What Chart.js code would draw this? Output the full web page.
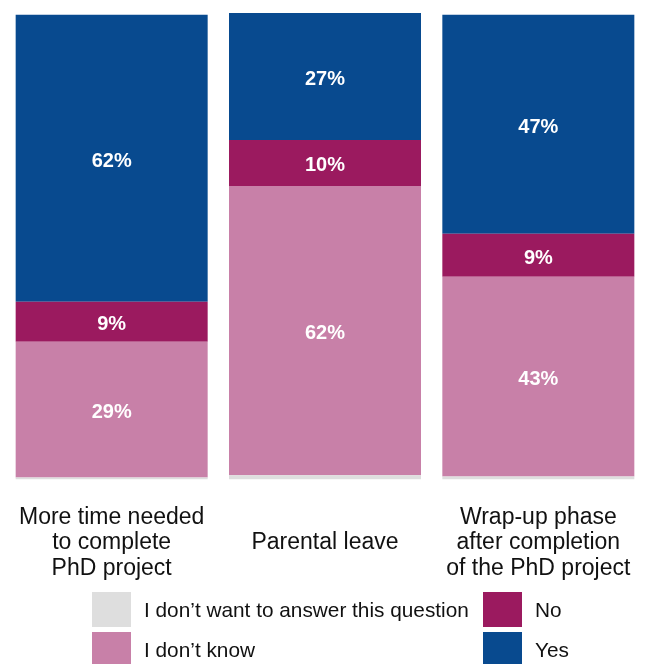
<!DOCTYPE html>
<html>
<head>
<meta charset="utf-8">
<script src="https://cdn.jsdelivr.net/npm/chart.js@4/dist/chart.umd.min.js"></script>
<style>
  body { margin: 0; background: #fff; font-family: "Liberation Sans", Arial, sans-serif; }
  #wrap { position: relative; width: 649px; height: 596px; }
  #legend { position: absolute; left: 0; top: 0; width: 649px; height: 664px; pointer-events: none; }
  .item { position: absolute; display: flex; align-items: center; font-size: 20.8px; color: #111; }
  .box { width: 39px; height: 35px; margin-right: 13px; }
</style>
</head>
<body>
<div id="wrap"><canvas id="chart"></canvas></div>
<div id="legend"></div>
<script>
const categories = [
    ["More time needed", "to complete", "PhD project"],
    ["Parental leave"],
    ["Wrap-up phase", "after completion", "of the PhD project"]
]
const noAnswer = [0.4, 0.9, 0.6]
const dontKnow = [29.2, 62.2, 43.0]
const noVals = [8.6, 9.9, 9.2]
const yesVals = [61.7, 27.3, 47.1]

const seriesNames = ["I don\u2019t want to answer this question", "I don\u2019t know", "No", "Yes"]
const seriesColors = ["#dedede", "#c880a8", "#9b1a5f", "#084a8f"]

// draw the percent in the middle of each segment
const segLabels = {
    id: 'segLabels',
    afterDatasetsDraw(chart) {
        const ctx = chart.ctx
        ctx.save()
        ctx.fillStyle = '#fff'
        ctx.font = 'bold 20px "Liberation Sans", Arial, sans-serif'
        ctx.textAlign = 'center'
        ctx.textBaseline = 'middle'
        chart.data.datasets.forEach((ds, i) => {
            const meta = chart.getDatasetMeta(i)
            meta.data.forEach((bar, j) => {
                const v = ds.data[j]
                if (v < 3) return
                const mid = (bar.y + bar.base) / 2
                ctx.fillText(Math.round(v) + '%', bar.x, mid + 3)
            })
        })
        ctx.restore()
    }
}

const allData = [noAnswer, dontKnow, noVals, yesVals]
let datasets = []
for (let i = 0; i < allData.length; i++) {
    datasets.push({
        label: seriesNames[i],
        data: allData[i],
        backgroundColor: seriesColors[i],
        borderWidth: 0,
        barPercentage: 0.9,
        categoryPercentage: 1
    })
}

new Chart(document.getElementById('chart'), {
    type: 'bar',
    data: { labels: categories, datasets: datasets },
    options: {
        responsive: true,
        maintainAspectRatio: false,
        animation: false,
        layout: { padding: { left: 5, right: 4, top: 12, bottom: 2 } },
        plugins: { legend: { display: false }, tooltip: { enabled: false } },
        scales: {
            x: {
                stacked: true,
                // grid hidden, tickLength only used as gap above labels
                grid: { display: false, drawTicks: true, tickLength: 38 },
                border: { display: false },
                ticks: {
                    color: '#111',
                    padding: 0,
                    crossAlign: 'center',
                    maxRotation: 0,
                    autoSkip: false,
                    font: { family: '"Liberation Sans", Arial, sans-serif', size: 23, lineHeight: 1.11 }
                }
            },
            y: {
                stacked: true,
                display: false,
                min: 0,
                max: 100.5
            }
        }
    },
    plugins: [segLabels]
});

// legend in two columns
const legendPos = [[92, 592], [92, 632], [483, 592], [483, 632]]
const legend = document.getElementById('legend')
for (let i = 0; i < seriesNames.length; i++) {
    const item = document.createElement('div')
    item.className = 'item'
    item.style.left = legendPos[i][0] + 'px'
    item.style.top = legendPos[i][1] + 'px'
    item.innerHTML = `<div class="box" style="background:${seriesColors[i]}"></div><span>${seriesNames[i]}</span>`
    legend.appendChild(item)
}
</script>
</body>
</html>
